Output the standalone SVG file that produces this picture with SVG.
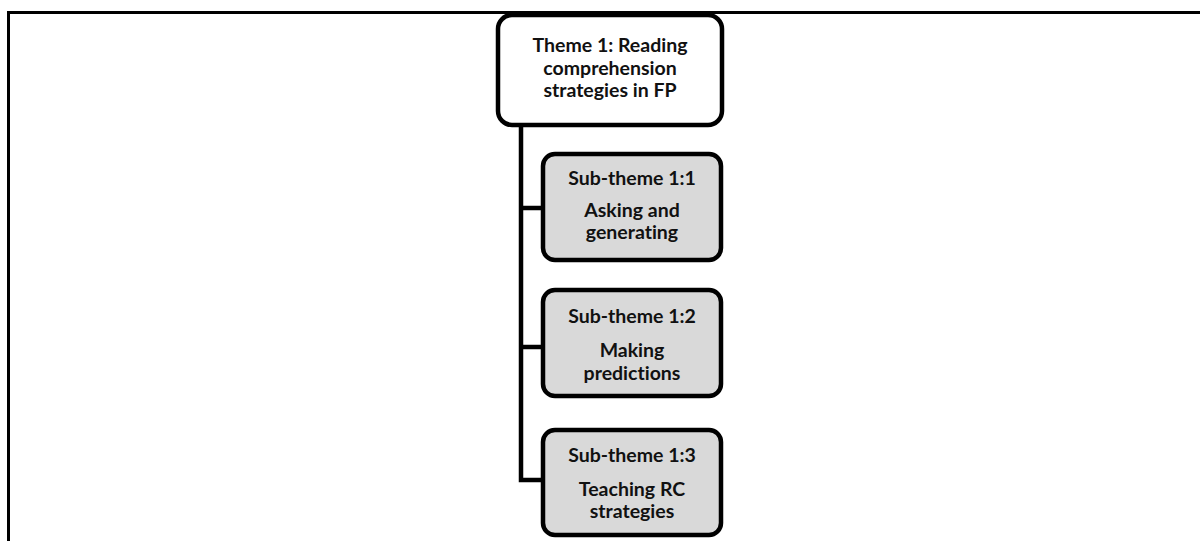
<svg xmlns="http://www.w3.org/2000/svg" width="1200" height="541" viewBox="0 0 1200 541">
  <style>
    .frame { fill: none; stroke: #000; stroke-width: 3; }
    .theme { fill: #fff; stroke: #000; stroke-width: 4.5; }
    .sub { fill: #d9d9d9; stroke: #000; stroke-width: 4.5; }
    .link { fill: none; stroke: #000; stroke-width: 4.5; }
    text { font-family: Lato, "Liberation Sans", sans-serif; font-weight: bold; font-size: 19.5px; fill: #111; text-anchor: middle; font-variant-ligatures: none; }
  </style>
  <rect width="1200" height="541" fill="#fff"/>
  <!-- outer frame (top and left edges only) -->
  <path class="frame" d="M8.5,541 V12.5 H1200"/>

  <!-- connectors -->
  <g id="connectors">
    <path class="link" d="M521,126 V480 H543"/>
    <path class="link" d="M521,208 H543"/>
    <path class="link" d="M521,347 H543"/>
  </g>

  <g id="theme1">
    <rect class="theme" x="498" y="15" width="224" height="110" rx="14"/>
    <text x="610" y="52">Theme 1: Reading</text>
    <text x="610" y="75">comprehension</text>
    <text x="610" y="97">strategies in FP</text>
  </g>

  <g id="sub1">
    <rect class="sub" x="543" y="154" width="178" height="106" rx="12"/>
    <text x="632" y="185">Sub-theme 1:1</text>
    <text x="632" y="217">Asking and</text>
    <text x="632" y="239">generating</text>
  </g>

  <g id="sub2">
    <rect class="sub" x="543" y="290" width="178" height="106" rx="12"/>
    <text x="632" y="323">Sub-theme 1:2</text>
    <text x="632" y="357">Making</text>
    <text x="632" y="380">predictions</text>
  </g>

  <g id="sub3">
    <rect class="sub" x="543" y="430" width="178" height="105" rx="12"/>
    <text x="632" y="462">Sub-theme 1:3</text>
    <text x="632" y="496">Teaching RC</text>
    <text x="632" y="518">strategies</text>
  </g>
</svg>
